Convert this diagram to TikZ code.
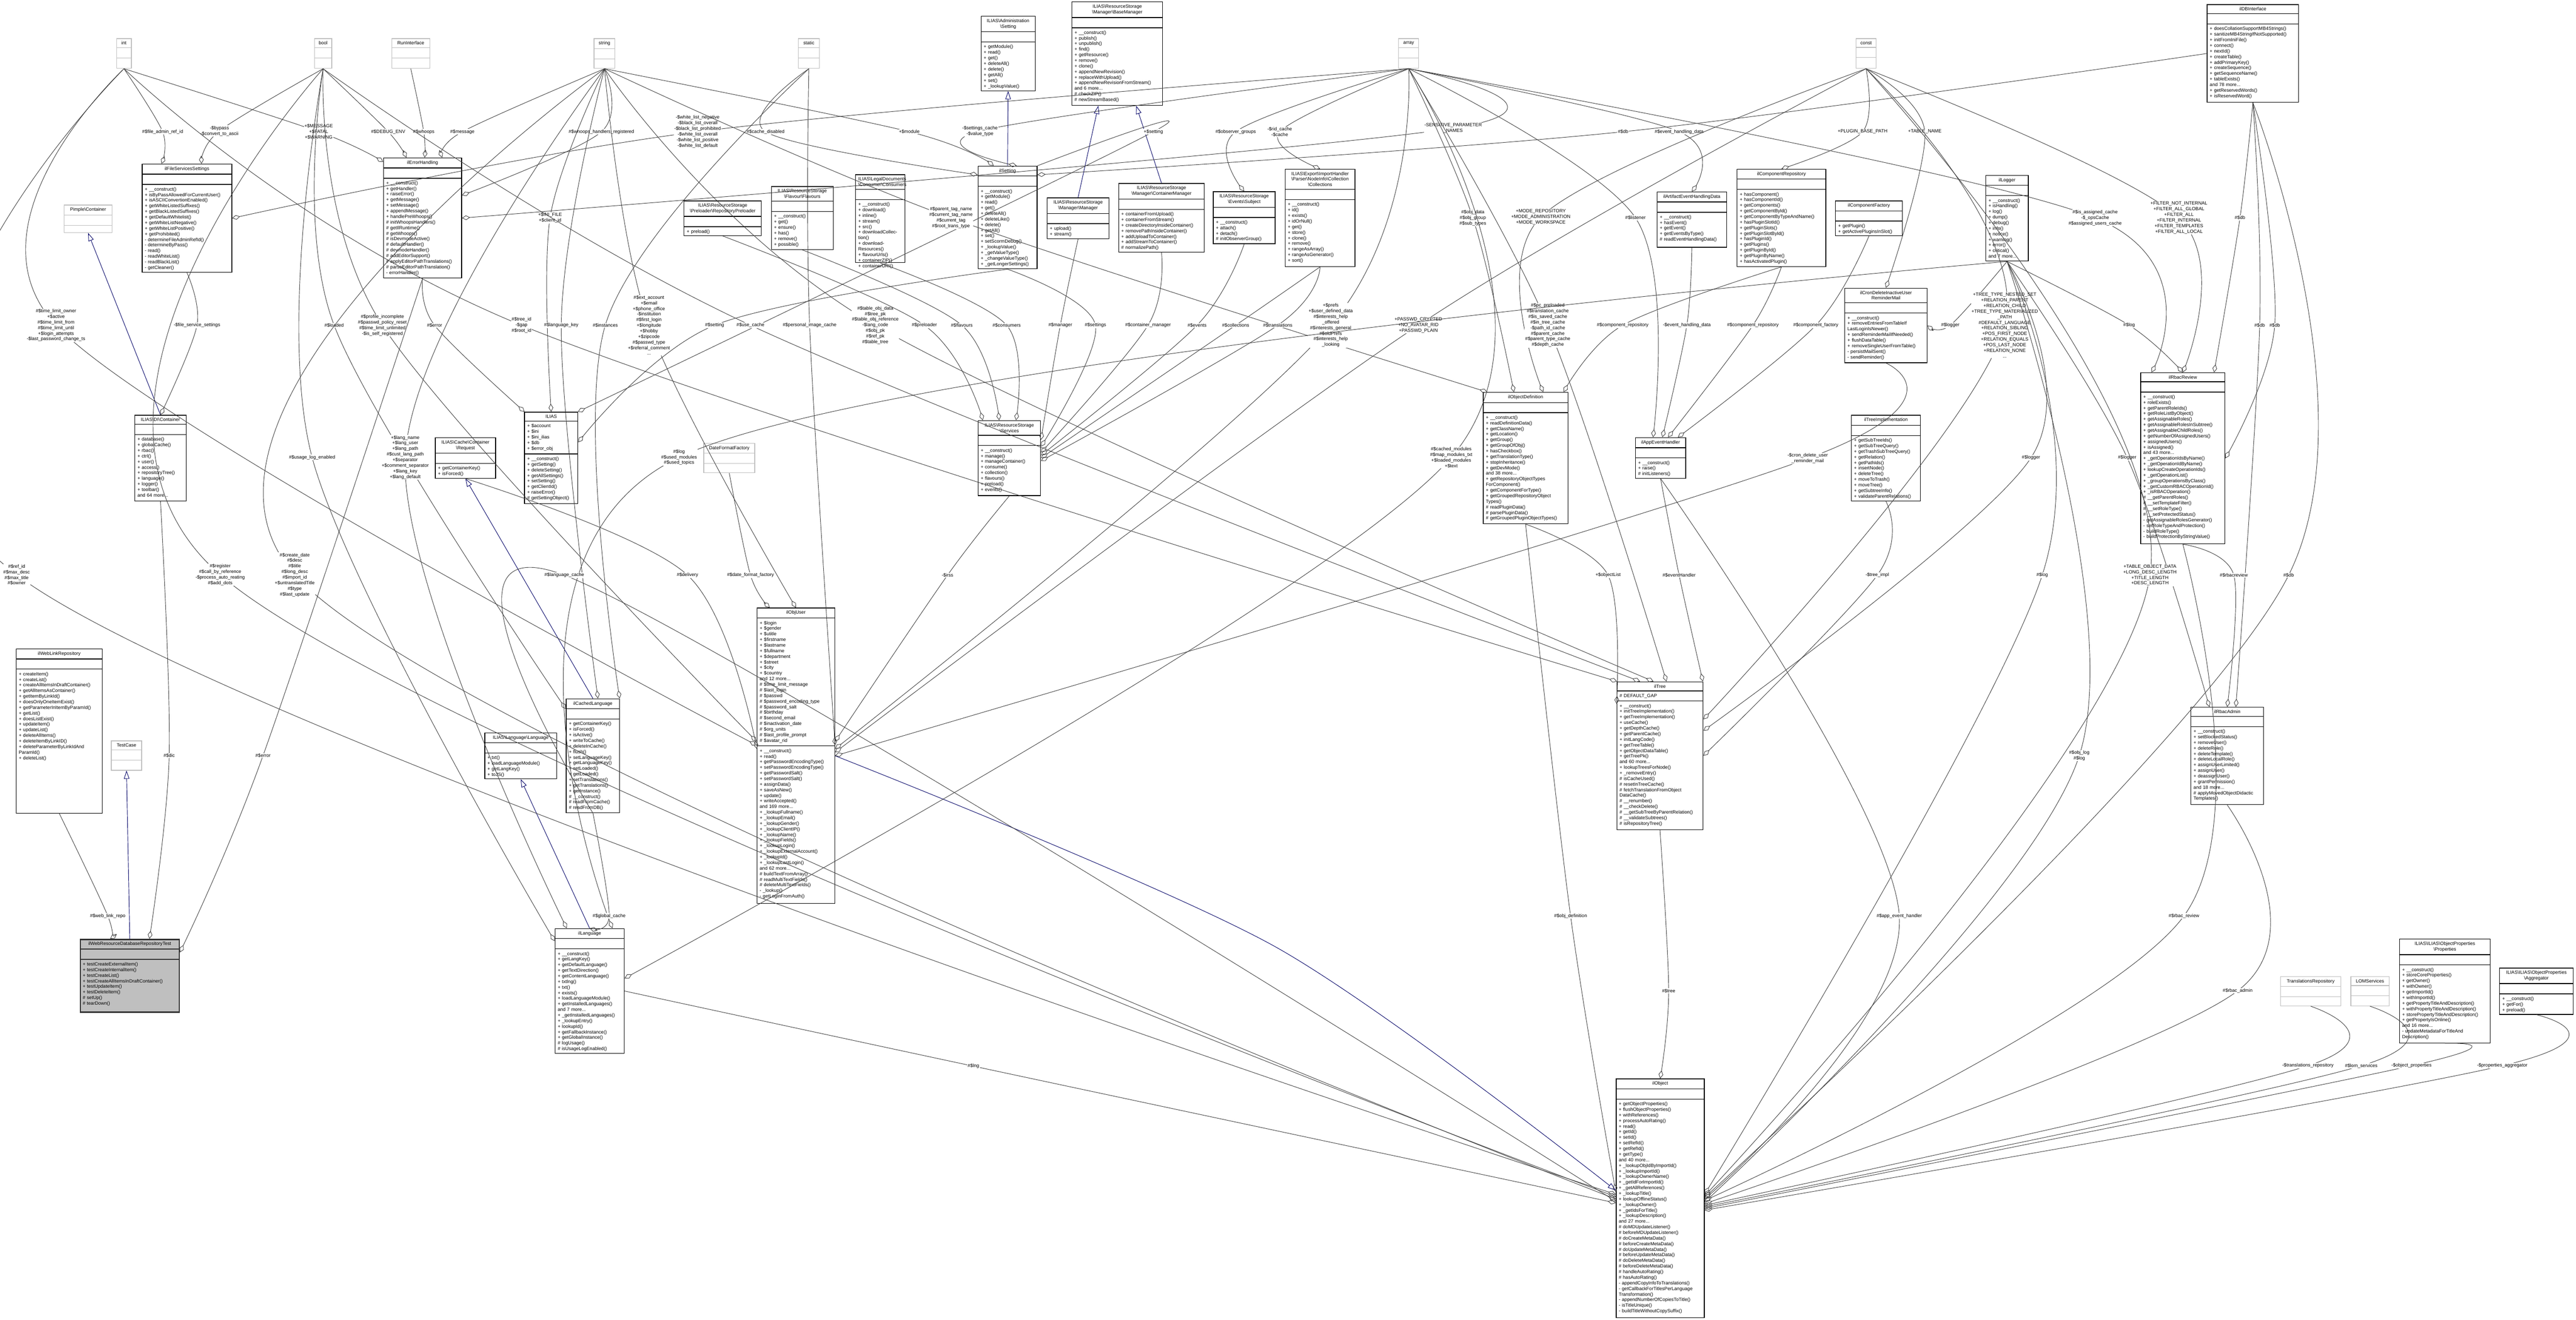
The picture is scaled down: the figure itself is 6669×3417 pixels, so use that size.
\documentclass[tikz,border=0pt]{standalone}
\usepackage{fontspec}
\setmainfont{Liberation Sans}
\usetikzlibrary{fit,arrows.meta}
\newcount\edgecnt
\newcommand\BS{\textbackslash{}}
\tikzset{
 cls/.style={draw=black,line width=0.5pt},
 clssep/.style={draw=black,line width=0.5pt},
 tbox/.style={draw=black!25,line width=0.5pt},
 tboxsep/.style={draw=black!25,line width=0.5pt},
 tst/.style={draw=black!80,fill=black!25,line width=0.9pt},
 tstsep/.style={draw=black!80,line width=0.9pt},
 agg/.style={draw=black!75,line width=0.35pt,-{Diamond[open,length=6pt,width=3.4pt]}},
 inh/.style={draw=blue!40!black,line width=0.35pt,-{Triangle[open,length=6pt,width=4pt]}},
 lbl/.style={fill=white,inner sep=0.4pt,align=center},
 every node/.append style={font=\fontsize{3.45}{4.12}\selectfont}
}
% #1 style #2 name #3 x1 #4 y1 #5 x2 #6 y2 #7 title #8 attrs #9 methods
\newcommand\umlbox[9][cls]{%
 \pgfmathsetlengthmacro\bw{(#5-#3)*0.28453pt-4pt}%
 \node[#1,fit={(#3,#4) (#5,#6)},inner sep=0pt] (#2) {};
 \node[anchor=north,text width=\bw,align=center,inner sep=2pt] (#2-t) at (#2.north) {#7};
 \draw[#1sep] (#2.west |- #2-t.south) -- (#2.east |- #2-t.south);
 \node[anchor=north west,text width=\bw,align=left,inner sep=2pt,minimum height=0.25cm] (#2-a) at (#2.west |- #2-t.south) {#8};
 \draw[#1sep] (#2.west |- #2-a.south) -- (#2.east |- #2-a.south);
 \node[anchor=north west,text width=\bw,align=left,inner sep=2pt,minimum height=0.25cm] (#2-m) at (#2.west |- #2-a.south) {#9};
}
\newcommand\agg[5]{%
 \draw[agg] plot[smooth,tension=0.55] coordinates {(#1) (#2,#3) (#4)};
 \global\advance\edgecnt by 1
 \node[lbl] (lb\the\edgecnt) at (#2,#3) {#5};}
\newcommand\inh[2]{\draw[inh] (#1) -- (#2);}
\begin{document}
\begin{tikzpicture}[x=0.01cm,y=-0.01cm]
\useasboundingbox[fill=white] (0,0) rectangle (6669,3417);
% ---------- type boxes
\umlbox[tbox]{int}{302}{100}{340}{177}{int}{}{}
\umlbox[tbox]{bool}{814}{100}{859}{177}{bool}{}{}
\umlbox[tbox]{runif}{1014}{100}{1113}{177}{RunInterface}{}{}
\umlbox[tbox]{string}{1538}{100}{1592}{177}{string}{}{}
\umlbox[tbox]{static}{2067}{100}{2121}{177}{static}{}{}
\umlbox[tbox]{array}{3621}{100}{3673}{177}{array}{}{}
\umlbox[tbox]{const}{4805}{100}{4857}{177}{const}{}{}
\umlbox[tbox]{pimple}{166}{531}{290}{602}{Pimple\BS Container}{}{}
\umlbox[tbox]{datefmt}{1822}{1148}{1954}{1224}{DateFormatFactory}{}{}
\umlbox[tbox]{testcase}{288}{1918}{367}{1994}{TestCase}{}{}
\umlbox[tbox]{transrepo}{5904}{2528}{6060}{2604}{TranslationsRepository}{}{}
\umlbox[tbox]{lom}{6086}{2528}{6185}{2604}{LOMServices}{}{}
% ---------- classes
\umlbox{fss}{368}{425}{600}{705}{ilFileServicesSettings}{}{+ \_\_construct()\\+ isByPassAllowedForCurrentUser()\\+ isASCIIConvertionEnabled()\\+ getWhiteListedSuffixes()\\+ getBlackListedSuffixes()\\+ getDefaultWhitelist()\\+ getWhiteListNegative()\\+ getWhiteListPositive()\\+ getProhibited()\\- determineFileAdminRefId()\\- determineByPass()\\- read()\\- readWhiteList()\\- readBlackList()\\- getCleaner()}
\umlbox{err}{993}{409}{1195}{720}{ilErrorHandling}{}{+ \_\_construct()\\+ getHandler()\\+ raiseError()\\+ getMessage()\\+ setMessage()\\+ appendMessage()\\+ handlePreWhoops()\\\# initWhoopsHandlers()\\\# getIlRuntime()\\\# getWhoops()\\\# isDevmodeActive()\\\# defaultHandler()\\\# devmodeHandler()\\\# addEditorSupport()\\\# applyEditorPathTranslations()\\\# parseEditorPathTranslation()\\- errorHandler()}
\umlbox{preloader}{1771}{520}{1971}{610}{ILIAS\BS ResourceStorage\\\BS Preloader\BS RepositoryPreloader}{}{+ preload()}
\umlbox{flavours}{1997}{483}{2157}{646}{ILIAS\BS ResourceStorage\\\BS Flavour\BS Flavours}{}{+ \_\_construct()\\+ get()\\+ ensure()\\+ has()\\+ remove()\\+ possible()}
\umlbox{consumers}{2215}{452}{2343}{680}{ILIAS\BS LegalDocuments\\\BS Consumer\BS Consumers}{}{+ \_\_construct()\\+ download()\\+ inline()\\+ stream()\\+ src()\\+ downloadCollection()\\+ downloadResources()\\+ flavourUrls()\\+ containerZIP()\\+ containerURI()}
\umlbox{admset}{2540}{42}{2680}{235}{ILIAS\BS Administration\\\BS Setting}{}{+ getModule()\\+ read()\\+ get()\\+ deleteAll()\\+ delete()\\+ getAll()\\+ set()\\+ \_lookupValue()}
\umlbox{basemgr}{2775}{5}{3010}{273}{ILIAS\BS ResourceStorage\\\BS Manager\BS BaseManager}{}{+ \_\_construct()\\+ publish()\\+ unpublish()\\+ find()\\+ getResource()\\+ remove()\\+ clone()\\+ appendNewRevision()\\+ replaceWithUpload()\\+ appendNewRevisionFromStream()\\and 6 more...\\\# checkZIP()\\\# newStreamBased()}
\umlbox{ilsetting}{2532}{430}{2685}{696}{ilSetting}{}{+ \_\_construct()\\+ getModule()\\+ read()\\+ get()\\+ deleteAll()\\+ deleteLike()\\+ delete()\\+ getAll()\\+ set()\\+ setScormDebug()\\+ \_lookupValue()\\+ \_getValueType()\\+ \_changeValueType()\\+ \_getLongerSettings()}
\umlbox{manager}{2711}{512}{2871}{618}{ILIAS\BS ResourceStorage\\\BS Manager\BS Manager}{}{+ upload()\\+ stream()}
\umlbox{contmgr}{2896}{475}{3118}{653}{ILIAS\BS ResourceStorage\\\BS Manager\BS ContainerManager}{}{+ containerFromUpload()\\+ containerFromStream()\\+ createDirectoryInsideContainer()\\+ removePathInsideContainer()\\+ addUploadToContainer()\\+ addStreamToContainer()\\\# normalizePath()}
\umlbox{subject}{3141}{496}{3301}{631}{ILIAS\BS ResourceStorage\\\BS Events\BS Subject}{}{+ \_\_construct()\\+ attach()\\+ detach()\\\# initObserverGroup()}
\umlbox{collections}{3327}{438}{3508}{690}{ILIAS\BS Export\BS ImportHandler\\\BS Parser\BS NodeInfo\BS Collection\\\BS Collections}{}{+ \_\_construct()\\+ id()\\+ exists()\\+ idOrNull()\\+ get()\\+ store()\\+ clone()\\+ remove()\\+ rangeAsArray()\\+ rangeAsGenerator()\\+ sort()}
\umlbox{artifact}{4290}{497}{4470}{640}{ilArtifactEventHandlingData}{}{+ \_\_construct()\\+ hasEvent()\\+ getEvent()\\+ getEventsByType()\\\# readEventHandlingData()}
\umlbox{comprepo}{4497}{438}{4727}{690}{ilComponentRepository}{}{+ hasComponent()\\+ hasComponentId()\\+ getComponents()\\+ getComponentById()\\+ getComponentByTypeAndName()\\+ hasPluginSlotId()\\+ getPluginSlots()\\+ getPluginSlotById()\\+ hasPluginId()\\+ getPlugins()\\+ getPluginById()\\+ getPluginByName()\\+ hasActivatedPlugin()}
\umlbox{compfac}{4752}{520}{4925}{610}{ilComponentFactory}{}{+ getPlugin()\\+ getActivePluginsInSlot()}
\umlbox{logger}{5141}{454}{5251}{676}{ilLogger}{}{+ \_\_construct()\\+ isHandling()\\+ log()\\+ dump()\\+ debug()\\+ info()\\+ notice()\\+ warning()\\+ error()\\+ critical()\\and 7 more...}
\umlbox{db}{5714}{12}{5951}{265}{ilDBInterface}{}{+ doesCollationSupportMB4Strings()\\+ sanitizeMB4StringIfNotSupported()\\+ initFromIniFile()\\+ connect()\\+ nextId()\\+ createTable()\\+ addPrimaryKey()\\+ createSequence()\\+ getSequenceName()\\+ tableExists()\\and 78 more...\\+ getReservedWords()\\+ isReservedWord()}
\umlbox{dic}{349}{1075}{482}{1297}{ILIAS\BS DI\BS Container}{}{+ database()\\+ globalCache()\\+ rbac()\\+ ctrl()\\+ user()\\+ access()\\+ repositoryTree()\\+ language()\\+ logger()\\+ toolbar()\\and 64 more...}
\umlbox{ilias}{1358}{1067}{1496}{1304}{ILIAS}{+ \$account\\+ \$ini\\+ \$ini\_ilias\\+ \$db\\+ \$error\_obj}{+ \_\_construct()\\+ getSetting()\\+ deleteSetting()\\+ getAllSettings()\\+ setSetting()\\+ getClientId()\\+ raiseError()\\\# getSettingObject()}
\umlbox{request}{1127}{1133}{1283}{1238}{ILIAS\BS Cache\BS Container\\\BS Request}{}{+ getContainerKey()\\+ isForced()}
\umlbox{services}{2532}{1089}{2694}{1283}{ILIAS\BS ResourceStorage\\\BS Services}{}{+ \_\_construct()\\+ manage()\\+ manageContainer()\\+ consume()\\+ collection()\\+ flavours()\\+ preload()\\+ events()}
\umlbox{objdef}{3840}{1016}{4059}{1356}{ilObjectDefinition}{}{+ \_\_construct()\\+ readDefinitionData()\\+ getClassName()\\+ getLocation()\\+ getGroup()\\+ getGroupOfObj()\\+ hasCheckbox()\\+ getTranslationType()\\+ stopInheritance()\\+ getDevMode()\\and 38 more...\\+ getRepositoryObjectTypes\\ForComponent()\\+ getComponentForType()\\+ getGroupedRepositoryObject\\Types()\\\# readPluginData()\\\# parsePluginData()\\\# getGroupedPluginObjectTypes()}
\umlbox{appevent}{4234}{1133}{4364}{1238}{ilAppEventHandler}{}{+ \_\_construct()\\+ raise()\\\# initListeners()}
\umlbox{cron}{4776}{746}{4989}{939}{ilCronDeleteInactiveUser\\ReminderMail}{}{+ \_\_construct()\\+ removeEntriesFromTableIf\\LastLoginIsNewer()\\+ sendReminderMailIfNeeded()\\+ flushDataTable()\\+ removeSingleUserFromTable()\\- persistMailSent()\\- sendReminder()}
\umlbox{treeimpl}{4793}{1075}{4972}{1297}{ilTreeImplementation}{}{+ getSubTreeIds()\\+ getSubTreeQuery()\\+ getTrashSubTreeQuery()\\+ getRelation()\\+ getPathIds()\\+ insertNode()\\+ deleteTree()\\+ moveToTrash()\\+ moveTree()\\+ getSubtreeInfo()\\+ validateParentRelations()}
\umlbox{rbacreview}{5542}{965}{5760}{1408}{ilRbacReview}{}{+ \_\_construct()\\+ roleExists()\\+ getParentRoleIds()\\+ getRoleListByObject()\\+ getAssignableRoles()\\+ getAssignableRolesInSubtree()\\+ getAssignableChildRoles()\\+ getNumberOfAssignedUsers()\\+ assignedUsers()\\+ isAssigned()\\and 43 more...\\+ \_getOperationIdsByName()\\+ \_getOperationIdByName()\\+ lookupCreateOperationIds()\\+ \_getOperationList()\\+ \_groupOperationsByClass()\\+ \_getCustomRBACOperationId()\\+ \_isRBACOperation()\\\# \_\_getParentRoles()\\\# \_\_setTemplateFilter()\\\# \_\_setRoleType()\\\# \_\_setProtectedStatus()\\- getAssignableRolesGenerator()\\- setRoleTypeAndProtection()\\- buildRoleType()\\- buildProtectionByStringValue()}
\umlbox{weblink}{42}{1680}{265}{2105}{ilWebLinkRepository}{}{+ createItem()\\+ createList()\\+ createAllItemsInDraftContainer()\\+ getAllItemsAsContainer()\\+ getItemByLinkId()\\+ doesOnlyOneItemExist()\\+ getParameterInItemByParamId()\\+ getList()\\+ doesListExist()\\+ updateItem()\\+ updateList()\\+ deleteAllItems()\\+ deleteItemByLinkID()\\+ deleteParameterByLinkIdAnd\\ParamId()\\+ deleteList()}
\umlbox[tst]{test}{208}{2432}{464}{2620}{ilWebResourceDatabaseRepositoryTest}{}{+ testCreateExternalItem()\\+ testCreateInternalItem()\\+ testCreateList()\\+ testCreateAllItemsInDraftContainer()\\+ testUpdateItem()\\+ testDeleteItem()\\\# setUp()\\\# tearDown()}
\umlbox{langlang}{1255}{1897}{1441}{2016}{ILIAS\BS Language\BS Language}{}{+ txt()\\+ loadLanguageModule()\\+ getLangKey()\\+ toJS()}
\umlbox{cachedlang}{1466}{1809}{1604}{2104}{ilCachedLanguage}{}{+ getContainerKey()\\+ isForced()\\+ isActive()\\+ writeToCache()\\+ deleteInCache()\\+ flush()\\+ setLanguageKey()\\+ getLanguageKey()\\+ setLoaded()\\+ getLoaded()\\+ setTranslations()\\+ getTranslations()\\+ getInstance()\\\# \_\_construct()\\\# readFromCache()\\\# readFromDB()}
\umlbox{objuser}{1960}{1574}{2161}{2339}{ilObjUser}{+ \$login\\+ \$gender\\+ \$utitle\\+ \$firstname\\+ \$lastname\\+ \$fullname\\+ \$department\\+ \$street\\+ \$city\\+ \$country\\and 12 more...\\\# \$time\_limit\_message\\\# \$last\_login\\\# \$passwd\\\# \$password\_encoding\_type\\\# \$password\_salt\\\# \$birthday\\\# \$second\_email\\\# \$inactivation\_date\\\# \$org\_units\\\# \$last\_profile\_prompt\\\# \$avatar\_rid}{+ \_\_construct()\\+ read()\\+ getPasswordEncodingType()\\+ setPasswordEncodingType()\\+ getPasswordSalt()\\+ setPasswordSalt()\\+ assignData()\\+ saveAsNew()\\+ update()\\+ writeAccepted()\\and 169 more...\\+ \_lookupFullname()\\+ \_lookupEmail()\\+ \_lookupGender()\\+ \_lookupClientIP()\\+ \_lookupName()\\+ \_lookupFields()\\+ \_lookupLogin()\\+ \_lookupExternalAccount()\\+ \_lookupId()\\+ \_lookupLastLogin()\\and 62 more...\\\# buildTextFromArray()\\\# readMultiTextFields()\\\# deleteMultiTextFields()\\- \_lookup()\\- getLoginFromAuth()}
\umlbox{lang}{1437}{2404}{1616}{2727}{ilLanguage}{}{+ \_\_construct()\\+ getLangKey()\\+ getDefaultLanguage()\\+ getTextDirection()\\+ getContentLanguage()\\+ txtlng()\\+ txt()\\+ exists()\\+ loadLanguageModule()\\+ getInstalledLanguages()\\and 7 more...\\+ \_getInstalledLanguages()\\+ \_lookupEntry()\\+ lookupId()\\+ getFallbackInstance()\\+ getGlobalInstance()\\\# logUsage()\\\# isUsageLogEnabled()}
\umlbox{iltree}{4186}{1765}{4409}{2148}{ilTree}{\# DEFAULT\_GAP}{+ \_\_construct()\\+ initTreeImplementation()\\+ getTreeImplementation()\\+ useCache()\\+ getDepthCache()\\+ getParentCache()\\+ initLangCode()\\+ getTreeTable()\\+ getObjectDataTable()\\+ getTreePk()\\and 60 more...\\+ lookupTreesForNode()\\+ \_removeEntry()\\\# isCacheUsed()\\\# resetInTreeCache()\\\# fetchTranslationFromObject\\DataCache()\\\# \_\_renumber()\\\# \_\_checkDelete()\\\# \_\_getSubTreeByParentRelation()\\\# \_\_validateSubtrees()\\\# isRepositoryTree()}
\umlbox{rbacadmin}{5672}{1831}{5860}{2083}{ilRbacAdmin}{}{+ \_\_construct()\\+ setBlockedStatus()\\+ removeUser()\\+ deleteRole()\\+ deleteTemplate()\\+ deleteLocalRole()\\+ assignUserLimited()\\+ assignUser()\\+ deassignUser()\\+ grantPermission()\\and 18 more...\\\# applyMovedObjectDidactic\\Templates()}
\umlbox{ilobject}{4184}{2793}{4412}{3411}{ilObject}{}{+ getObjectProperties()\\+ flushObjectProperties()\\+ withReferences()\\+ processAutoRating()\\+ read()\\+ getId()\\+ setId()\\+ setRefId()\\+ getRefId()\\+ getType()\\and 40 more...\\+ \_lookupObjIdByImportId()\\+ \_lookupImportId()\\+ \_lookupOwnerName()\\+ \_getIdForImportId()\\+ \_getAllReferences()\\+ \_lookupTitle()\\+ lookupOfflineStatus()\\+ \_lookupOwner()\\+ \_getIdsForTitle()\\+ \_lookupDescription()\\and 27 more...\\\# doMDUpdateListener()\\\# beforeMDUpdateListener()\\\# doCreateMetaData()\\\# beforeCreateMetaData()\\\# doUpdateMetaData()\\\# beforeUpdateMetaData()\\\# doDeleteMetaData()\\\# beforeDeleteMetaData()\\\# handleAutoRating()\\\# hasAutoRating()\\- appendCopyInfoToTranslations()\\- getCallbackForTitlesPerLanguage\\Transformation()\\- appendNumberOfCopiesToTitle()\\- isTitleUnique()\\- buildTitleWithoutCopySuffix()}
\umlbox{props}{6212}{2431}{6447}{2700}{ILIAS\BS ILIAS\BS ObjectProperties\\\BS Properties}{}{+ \_\_construct()\\+ storeCoreProperties()\\+ getOwner()\\+ withOwner()\\+ getImportId()\\+ withImportId()\\+ getPropertyTitleAndDescription()\\+ withPropertyTitleAndDescription()\\+ storePropertyTitleAndDescription()\\+ getPropertyIsOnline()\\and 16 more...\\- updateMetadataForTitleAnd\\Description()}
\umlbox{aggr}{6471}{2506}{6662}{2626}{ILIAS\BS ILIAS\BS ObjectProperties\\\BS Aggregator}{}{+ \_\_construct()\\+ getFor()\\+ preload()}
% ---------- inheritance
\inh{ilsetting.north}{admset.south}
\inh{manager.north}{basemgr.250}
\inh{contmgr.north}{basemgr.290}
\inh{dic.north}{pimple.south}
\inh{cachedlang.north}{request.south}
\inh{lang.north}{langlang.south}
\inh{test.north}{testcase.south}
\draw[inh] plot[smooth] coordinates {(objuser.east) (3300,2450) (ilobject.170)};
% ---------- aggregations (top band)
\agg{int.south}{421}{341}{fss.115}{\#\$file\_admin\_ref\_id}
\agg{bool.south}{568}{339}{fss.75}{-\$bypass\\-\$convert\_to\_ascii}
\agg{int.south}{825}{341}{err.125}{+\$MESSAGE\\+\$FATAL\\+\$WARNING}
\agg{bool.south}{1005}{341}{err.105}{\#\$DEBUG\_ENV}
\agg{runif.south}{1097}{341}{err.88}{\#\$whoops}
\agg{string.south}{1197}{341}{err.72}{\#\$message}
\agg{string.south}{1557}{341}{err.30}{\#\$whoops\_handlers\_registered}
\agg{array.south}{1806}{341}{fss.east}{-\$white\_list\_negative\\-\$black\_list\_overall\\-\$black\_list\_prohibited\\-\$white\_list\_overall\\-\$white\_list\_positive\\-\$white\_list\_default}
\agg{static.south}{1982}{341}{ilsetting.125}{\#\$cache\_disabled}
\agg{string.south}{2354}{341}{ilsetting.105}{+\$module}
\agg{array.south}{2537}{339}{ilsetting.80}{-\$settings\_cache\\-\$value\_type}
\agg{ilsetting.60}{2986}{341}{ilias.60}{+\$setting}
\agg{array.south}{3199}{341}{subject.north}{\#\$observer\_groups}
\agg{array.south}{3313}{341}{collections.north}{-\$rid\_cache\\-\$cache}
\agg{array.south}{3762}{332}{err.east}{-SENSITIVE\_PARAMETER\\\_NAMES}
\agg{db.west}{4202}{341}{ilsetting.55}{\#\$db}
\agg{array.south}{4347}{341}{artifact.north}{\#\$event\_handling\_data}
\agg{const.south}{4822}{341}{comprepo.north}{+PLUGIN\_BASE\_PATH}
\agg{const.south}{4983}{341}{cron.north}{+TABLE\_NAME}
% ---------- y 564
\agg{string.south}{1424}{564}{ilias.north}{+\$INI\_FILE\\+\$client\_id}
\agg{string.south}{2462}{564}{objdef.120}{\#\$parent\_tag\_name\\\#\$current\_tag\_name\\\#\$current\_tag\\\#\$root\_trans\_type}
\agg{array.south}{3813}{564}{objdef.100}{\#\$obj\_data\\\#\$obj\_group\\\#\$sub\_types}
\agg{const.south}{3989}{562}{objdef.75}{+MODE\_REPOSITORY\\+MODE\_ADMINISTRATION\\+MODE\_WORKSPACE}
\agg{array.south}{4234}{564}{appevent.110}{\#\$listener}
\agg{array.south}{5424}{564}{rbacreview.110}{\#\$is\_assigned\_cache\\-\$\_opsCache\\\#\$assigned\_users\_cache}
\agg{const.south}{5641}{564}{rbacreview.90}{+FILTER\_NOT\_INTERNAL\\+FILTER\_ALL\_GLOBAL\\+FILTER\_ALL\\+FILTER\_INTERNAL\\+FILTER\_TEMPLATES\\+FILTER\_ALL\_LOCAL}
\agg{db.south}{5799}{564}{rbacreview.70}{\#\$db}
% ---------- y 842
\agg{int.south}{145}{842}{objuser.165}{\#\$time\_limit\_owner\\+\$active\\\#\$time\_limit\_from\\\#\$time\_limit\_until\\+\$login\_attempts\\-\$last\_password\_change\_ts}
\agg{fss.south}{510}{842}{dic.north}{-\$file\_service\_settings}
\agg{bool.south}{865}{842}{cachedlang.120}{\#\$loaded}
\agg{bool.south}{990}{842}{objuser.160}{\#\$profile\_incomplete\\\#\$passwd\_policy\_reset\\\#\$time\_limit\_unlimited\\-\$is\_self\_registered}
\agg{err.south}{1125}{842}{ilias.120}{\#\$error}
\agg{int.south}{1350}{842}{iltree.120}{\#\$tree\_id\\-\$gap\\\#\$root\_id}
\agg{string.south}{1453}{842}{cachedlang.85}{\#\$language\_key}
\agg{static.south}{1567}{842}{cachedlang.65}{\#\$instances}
\agg{string.south}{1680}{842}{objuser.north}{\#\$ext\_account\\+\$email\\+\$phone\_office\\-\$institution\\\#\$first\_login\\+\$longitude\\+\$hobby\\+\$zipcode\\\#\$passwd\_type\\+\$referral\_comment\\...}
\agg{ilsetting.south}{1850}{842}{ilias.30}{\#\$setting}
\agg{bool.south}{1943}{842}{iltree.105}{\#\$use\_cache}
\agg{static.south}{2096}{842}{objuser.15}{\#\$personal\_image\_cache}
\agg{string.south}{2266}{842}{iltree.95}{\#\$table\_obj\_data\\\#\$tree\_pk\\\#\$table\_obj\_reference\\-\$lang\_code\\\#\$obj\_pk\\\#\$ref\_pk\\\#\$table\_tree}
\agg{preloader.south}{2393}{842}{services.125}{\#\$preloader}
\agg{flavours.south}{2490}{842}{services.105}{\#\$flavours}
\agg{consumers.south}{2606}{842}{services.80}{\#\$consumers}
\agg{manager.south}{2745}{842}{services.30}{\#\$manager}
\agg{ilsetting.south}{2836}{842}{services.20}{\#\$settings}
\agg{contmgr.south}{2972}{842}{services.10}{\#\$container\_manager}
\agg{subject.south}{3099}{842}{services.5}{\#\$events}
\agg{collections.south}{3199}{842}{services.0}{\#\$collections}
\agg{collections.south}{3308}{842}{services.355}{\#\$translations}
\agg{array.south}{3445}{842}{objuser.10}{+\$prefs\\+\$user\_defined\_data\\\#\$interests\_help\\\_offered\\\#\$interests\_general\\\#\$oldPrefs\\\#\$interests\_help\\\_looking}
\agg{const.south}{3672}{842}{objuser.5}{+PASSWD\_CRYPTED\\+NO\_AVATAR\_RID\\+PASSWD\_PLAIN}
\agg{array.south}{4007}{842}{iltree.85}{\#\$pc\_preloaded\\\#\$translation\_cache\\\#\$is\_saved\_cache\\\#\$in\_tree\_cache\\-\$path\_id\_cache\\\#\$parent\_cache\\\#\$parent\_type\_cache\\\#\$depth\_cache}
\agg{comprepo.south}{4201}{842}{objdef.60}{\#\$component\_repository}
\agg{artifact.south}{4367}{842}{appevent.85}{-\$event\_handling\_data}
\agg{comprepo.south}{4538}{842}{appevent.70}{\#\$component\_repository}
\agg{compfac.south}{4701}{842}{appevent.50}{\#\$component\_factory}
\agg{logger.south}{5049}{842}{cron.east}{\#\$logger}
\agg{const.south}{5190}{842}{iltree.40}{+TREE\_TYPE\_NESTED\_SET\\+RELATION\_PARENT\\+RELATION\_CHILD\\+TREE\_TYPE\_MATERIALIZED\\\_PATH\\\#DEFAULT\_LANGUAGE\\+RELATION\_SIBLING\\+POS\_FIRST\_NODE\\+RELATION\_EQUALS\\+POS\_LAST\_NODE\\+RELATION\_NONE\\...}
\agg{logger.south}{5512}{842}{rbacreview.north}{\#\$log}
\agg{db.south}{5850}{842}{rbacadmin.80}{\#\$db}
\agg{db.south}{5889}{842}{rbacreview.east}{\#\$db}
% ---------- y 1185
\agg{bool.south}{808}{1184}{lang.125}{\#\$usage\_log\_enabled}
\agg{string.south}{1049}{1184}{lang.110}{+\$lang\_name\\+\$lang\_user\\+\$lang\_path\\\#\$cust\_lang\_path\\+\$separator\\+\$comment\_separator\\+\$lang\_key\\+\$lang\_default}
\agg{logger.south}{1758}{1184}{lang.70}{\#\$log\\\#\$used\_modules\\\#\$used\_topics}
\agg{array.south}{3757}{1184}{lang.20}{\#\$cached\_modules\\\#\$map\_modules\_txt\\+\$loaded\_modules\\+\$text}
\agg{cron.south}{4680}{1187}{objuser.0}{-\$cron\_delete\_user\\\_reminder\_mail}
\agg{logger.south}{5258}{1185}{iltree.30}{\#\$logger}
\agg{logger.south}{5507}{1185}{rbacadmin.110}{\#\$logger}
% ---------- y 1489
\agg{int.south}{43}{1488}{ilobject.175}{\#\$ref\_id\\\#\$max\_desc\\\#\$max\_title\\\#\$owner}
\agg{bool.south}{570}{1488}{ilobject.178}{\#\$register\\\#\$call\_by\_reference\\-\$process\_auto\_reating\\\#\$add\_dots}
\agg{string.south}{763}{1488}{ilobject.181}{\#\$create\_date\\\#\$desc\\\#\$title\\\#\$long\_desc\\\#\$import\_id\\+\$untranslatedTitle\\\#\$type\\\#\$last\_update}
\agg{cachedlang.south}{1461}{1489}{ilobject.184}{\#\$language\_cache}
\agg{request.south}{1780}{1489}{objuser.170}{\#\$delivery}
\agg{datefmt.south}{1943}{1489}{objuser.100}{\#\$date\_format\_factory}
\agg{services.south}{2453}{1489}{objuser.20}{-\$irss}
\agg{objdef.south}{4163}{1489}{iltree.130}{+\$objectList}
\agg{appevent.south}{4347}{1489}{iltree.60}{\#\$eventHandler}
\agg{treeimpl.south}{4860}{1489}{iltree.east}{-\$tree\_impl}
\agg{logger.south}{5287}{1489}{ilobject.5}{\#\$log}
\agg{const.south}{5566}{1489}{ilobject.3}{+TABLE\_OBJECT\_DATA\\+LONG\_DESC\_LENGTH\\+TITLE\_LENGTH\\+DESC\_LENGTH}
\agg{rbacreview.south}{5783}{1489}{rbacadmin.north}{\#\$rbacreview}
\agg{db.south}{5925}{1489}{ilobject.1}{\#\$db}
% ---------- lower
\agg{cachedlang.south}{1577}{2371}{lang.north}{\#\$global\_cache}
\agg{lang.east}{2520}{2760}{ilobject.186}{\#\$lng}
\agg{objdef.south}{4066}{2371}{ilobject.172}{\#\$obj\_definition}
\agg{appevent.south}{4917}{2371}{ilobject.359}{\#\$app\_event\_handler}
\agg{rbacreview.south}{5654}{2371}{ilobject.357}{\#\$rbac\_review}
\agg{logger.south}{5383}{1956}{ilobject.355}{\#\$obj\_log\\\#\$log}
\agg{iltree.south}{4320}{2565}{ilobject.north}{\#\$tree}
\agg{rbacadmin.south}{5793}{2565}{ilobject.353}{\#\$rbac\_admin}
\agg{transrepo.south}{5975}{2759}{ilobject.351}{-\$translations\_repository}
\agg{lom.south}{6113}{2759}{ilobject.349}{\#\$lom\_services}
\agg{props.south}{6243}{2759}{ilobject.347}{-\$object\_properties}
\agg{aggr.south}{6478}{2759}{ilobject.345}{-\$properties\_aggregator}
\agg{weblink.south}{279}{2371}{test.118}{\#\$web\_link\_repo}
\agg{dic.south}{438}{1956}{test.62}{\#\$dic}
\agg{err.south}{681}{1956}{test.25}{\#\$error}
\end{tikzpicture}
\end{document}
